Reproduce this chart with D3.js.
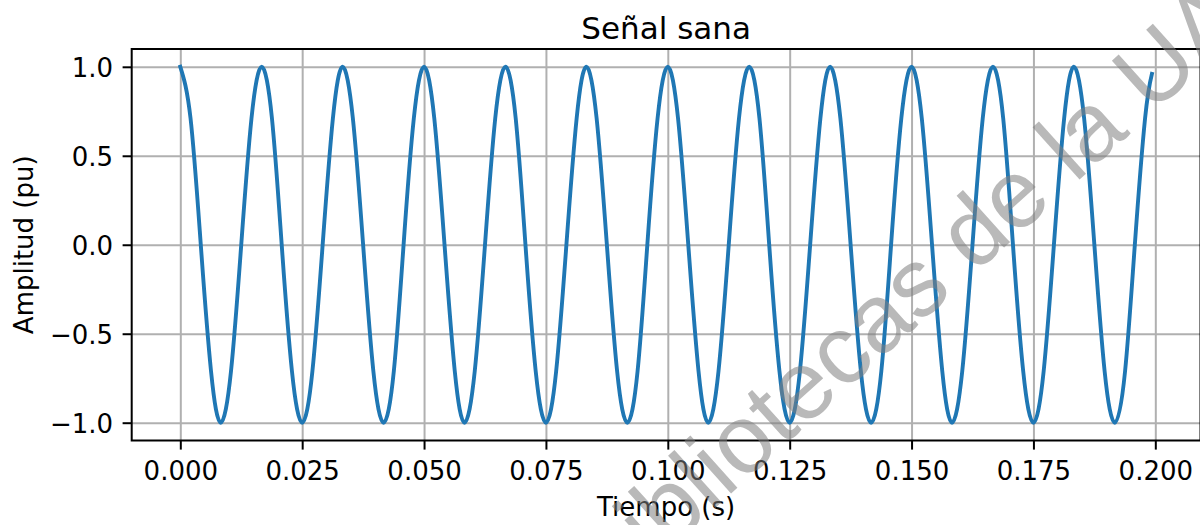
<!DOCTYPE html>
<html>
<head>
<meta charset="utf-8">
<script src="https://cdn.jsdelivr.net/npm/d3@7/dist/d3.min.js"></script>
<style>
  html, body { margin: 0; padding: 0; background: #fff; }
  svg { display: block; }
  text { font-family: "DejaVu Sans", sans-serif; fill: #000; }
</style>
</head>
<body>
<svg id="chart" width="1200" height="525"></svg>
<script>
// Señal de 60 Hz muestreada cada 1/8 de periodo
const tiempo = [
  0.0000, 0.0021, 0.0042, 0.0063, 0.0083, 0.0104, 0.0125, 0.0146,
  0.0167, 0.0188, 0.0208, 0.0229, 0.0250, 0.0271, 0.0292, 0.0313,
  0.0333, 0.0354, 0.0375, 0.0396, 0.0417, 0.0438, 0.0458, 0.0479,
  0.0500, 0.0521, 0.0542, 0.0563, 0.0583, 0.0604, 0.0625, 0.0646,
  0.0667, 0.0688, 0.0708, 0.0729, 0.0750, 0.0771, 0.0792, 0.0813,
  0.0833, 0.0854, 0.0875, 0.0896, 0.0917, 0.0938, 0.0958, 0.0979,
  0.1000, 0.1021, 0.1042, 0.1063, 0.1083, 0.1104, 0.1125, 0.1146,
  0.1167, 0.1188, 0.1208, 0.1229, 0.1250, 0.1271, 0.1292, 0.1313,
  0.1333, 0.1354, 0.1375, 0.1396, 0.1417, 0.1438, 0.1458, 0.1479,
  0.1500, 0.1521, 0.1542, 0.1563, 0.1583, 0.1604, 0.1625, 0.1646,
  0.1667, 0.1688, 0.1708, 0.1729, 0.1750, 0.1771, 0.1792, 0.1813,
  0.1833, 0.1854, 0.1875, 0.1896, 0.1917, 0.1938, 0.1958, 0.1979,
  0.1993
];
const amplitud = [
  1, 0.71, 0, -0.71, -1, -0.71, 0, 0.71,
  1, 0.71, 0, -0.71, -1, -0.71, 0, 0.71,
  1, 0.71, 0, -0.71, -1, -0.71, 0, 0.71,
  1, 0.71, 0, -0.71, -1, -0.71, 0, 0.71,
  1, 0.71, 0, -0.71, -1, -0.71, 0, 0.71,
  1, 0.71, 0, -0.71, -1, -0.71, 0, 0.71,
  1, 0.71, 0, -0.71, -1, -0.71, 0, 0.71,
  1, 0.71, 0, -0.71, -1, -0.71, 0, 0.71,
  1, 0.71, 0, -0.71, -1, -0.71, 0, 0.71,
  1, 0.71, 0, -0.71, -1, -0.71, 0, 0.71,
  1, 0.71, 0, -0.71, -1, -0.71, 0, 0.71,
  1, 0.71, 0, -0.71, -1, -0.71, 0, 0.71,
  0.96
];
const ticksX = [0, 0.025, 0.05, 0.075, 0.1, 0.125, 0.15, 0.175, 0.2];
const ticksY = [-1.0, -0.5, 0.0, 0.5, 1.0];

const titulo = "Señal sana";
const etiquetaX = "Tiempo (s)";
const etiquetaY = "Amplitud (pu)";
const marcaAgua = "Bibliotecas de la UA";

const svg = d3.select("#chart");
const izq = 131.7, der = 1200.5, sup = 49, inf = 440.5;

const x = d3.scaleLinear().domain([-0.00997, 0.20927]).range([izq, der]);
const y = d3.scaleLinear().domain([-1.1, 1.1]).range([inf, sup]);

svg.append("defs").append("clipPath").attr("id", "area")
  .append("rect").attr("x", izq).attr("y", sup)
  .attr("width", der - izq).attr("height", inf - sup);

// rejilla
const grid = svg.append("g");
grid.append("g")
  .attr("transform", `translate(0,${inf})`)
  .call(d3.axisBottom(x).tickValues(ticksX).tickSize(-(inf - sup)).tickFormat(""))
  .call(g => g.select(".domain").remove())
  .call(g => g.selectAll("line").attr("stroke", "#b0b0b0").attr("stroke-width", 2));
grid.append("g")
  .attr("transform", `translate(${izq},0)`)
  .call(d3.axisLeft(y).tickValues(ticksY).tickSize(-(der - izq)).tickFormat(""))
  .call(g => g.select(".domain").remove())
  .call(g => g.selectAll("line").attr("stroke", "#b0b0b0").attr("stroke-width", 2));

// señal
const puntos = tiempo.map((t, i) => [t, amplitud[i]]);
svg.append("path")
  .datum(puntos)
  .attr("clip-path", "url(#area)")
  .attr("fill", "none")
  .attr("stroke", "#1f77b4")
  .attr("stroke-width", 3.9)
  .attr("stroke-linejoin", "round")
  .attr("stroke-linecap", "square")
  .attr("d", d3.line().x(d => x(d[0])).y(d => y(d[1])).curve(d3.curveNatural));

// marco
svg.append("rect")
  .attr("x", izq).attr("y", sup)
  .attr("width", der - izq).attr("height", inf - sup)
  .attr("fill", "none").attr("stroke", "#000").attr("stroke-width", 2);

// ejes
const ax = svg.append("g")
  .attr("transform", `translate(0,${inf})`)
  .call(d3.axisBottom(x).tickValues(ticksX).tickFormat(d3.format(".3f")).tickSize(9.1).tickPadding(9));
ax.select(".domain").remove();
ax.selectAll("line").attr("stroke", "#000").attr("stroke-width", 2);
ax.selectAll("text").attr("font-size", 26).attr("font-family", "DejaVu Sans")
  .attr("dy", null).attr("y", 39);

const ay = svg.append("g")
  .attr("transform", `translate(${izq},0)`)
  .call(d3.axisLeft(y).tickValues(ticksY).tickFormat(d3.format(".1f")).tickSize(9.1).tickPadding(9));
ay.select(".domain").remove();
ay.selectAll("line").attr("stroke", "#000").attr("stroke-width", 2);
ay.selectAll("text").attr("font-size", 26).attr("font-family", "DejaVu Sans")
  .attr("dy", null).attr("y", 9.5).attr("x", -18.6);

// textos
const cx = (izq + der) / 2;
svg.append("text").attr("x", cx).attr("y", 39).attr("text-anchor", "middle")
  .attr("font-size", 31).text(titulo);
svg.append("text").attr("x", cx).attr("y", 516).attr("text-anchor", "middle")
  .attr("font-size", 26).text(etiquetaX);
svg.append("text")
  .attr("transform", `translate(33,${(sup + inf) / 2}) rotate(-90)`)
  .attr("text-anchor", "middle").attr("font-size", 26).text(etiquetaY);

// marca de agua diagonal
svg.append("text")
  .attr("transform", "translate(606,606) rotate(-42)")
  .style("font-family", "'Liberation Sans', Arial, sans-serif")
  .style("font-size", "97px")
  .style("fill", "#808080")
  .style("opacity", 0.55)
  .text(marcaAgua);
</script>
</body>
</html>
